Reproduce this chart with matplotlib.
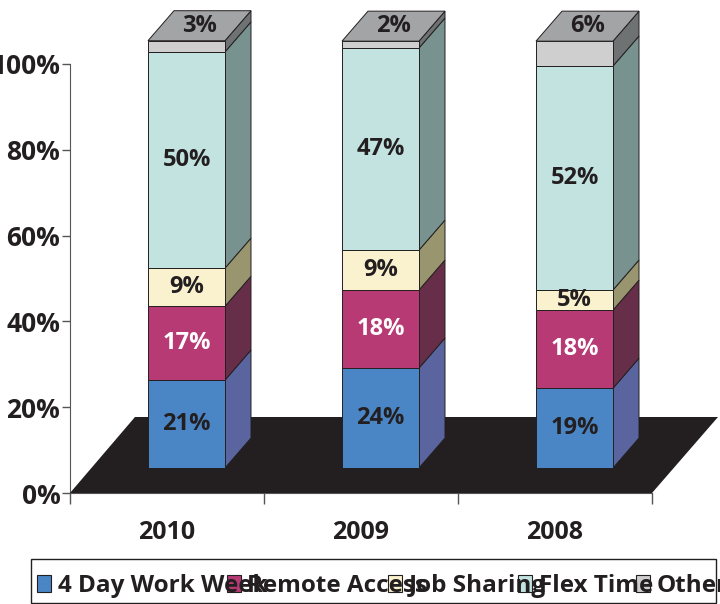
import matplotlib
matplotlib.use('Agg')
import matplotlib.pyplot as plt
from matplotlib.patches import Polygon, Rectangle
from matplotlib import font_manager

years = ['2010', '2009', '2008']
series = ['4 Day Work Week', 'Remote Access', 'Job Sharing', 'Flex Time', 'Other']

four_day = [20.5, 23.3, 18.6]
remote = [17.2, 18.2, 18.2]
job_sharing = [8.9, 9.3, 4.7]
flex_time = [50.4, 47.1, 52.2]
other = [2.6, 1.6, 5.8]

four_day_labels = ['21%', '24%', '19%']
remote_labels = ['17%', '18%', '18%']
job_labels = ['9%', '9%', '5%']
flex_labels = ['50%', '47%', '52%']
other_labels = ['3%', '2%', '6%']

front_colors = ['#4a86c5', '#b83a75', '#faf2cf', '#c3e3e0', '#cfcfcf']
side_colors = ['#5a649f', '#662e48', '#99956f', '#78928f', '#6f7272']
top_color = '#a3a4a6'
label_colors = ['#231f20', 'white', '#231f20', '#231f20', '#231f20']
dark = '#231f20'

installed = {f.name for f in font_manager.fontManager.ttflist}
font = 'Liberation Sans Narrow' if 'Liberation Sans Narrow' in installed else 'Open Sans'
plt.rcParams['font.family'] = [font, 'DejaVu Sans']
plt.rcParams['font.weight'] = 'bold'

W, H = 720, 604
fig = plt.figure(figsize=(W / 100, H / 100), dpi=100)
# plot area in pixels: x 70-652, y 64-493
ax = fig.add_axes([70 / W, 1 - 493 / H, 582 / W, 429 / H])
ax.set_xlim(0, 3)
ax.set_ylim(0, 100)

px_x = 3 / 582
px_y = 100 / 429

# floor
ax.add_patch(Polygon([(0, 0), (65 * px_x, 76 * px_y), (648 * px_x, 76 * px_y), (3, 0)],
                     closed=True, fc=dark, ec='none', clip_on=False, zorder=1))

base = 25 * px_y
dx = 26 * px_x
dy = 30 * px_y
bar_w = 77 * px_x
offset = 19.5 * px_x

values = [four_day, remote, job_sharing, flex_time, other]
labels = [four_day_labels, remote_labels, job_labels, flex_labels, other_labels]

for i in range(3):
    x0 = i + 0.5 + offset - bar_w / 2
    x1 = x0 + bar_w
    y = base
    for s in range(5):
        v = values[s][i]
        ax.add_patch(Polygon([(x1, y), (x1 + dx, y + dy), (x1 + dx, y + v + dy), (x1, y + v)],
                             closed=True, fc=side_colors[s], ec=dark, lw=0.7,
                             clip_on=False, zorder=2 + s))
        ax.add_patch(Rectangle((x0, y), bar_w, v, fc=front_colors[s], ec=dark, lw=0.7,
                               clip_on=False, zorder=8 + s))
        if s < 4:
            ax.text(x0 + bar_w / 2, y + v / 2, labels[s][i], color=label_colors[s],
                    ha='center', va='center', fontsize=17, clip_on=False, zorder=20)
        y += v
    ax.add_patch(Polygon([(x0, y), (x1, y), (x1 + dx, y + dy), (x0 + dx, y + dy)],
                         closed=True, fc=top_color, ec=dark, lw=0.7, clip_on=False, zorder=14))
    ax.text(x0 + bar_w / 2 + dx / 2, y + dy / 2, labels[4][i], color=dark,
            ha='center', va='center', fontsize=17, clip_on=False, zorder=20)

ax.set_yticks([0, 20, 40, 60, 80, 100])
ax.set_yticklabels(['0%', '20%', '40%', '60%', '80%', '100%'], fontsize=19, color=dark)
ax.set_xticks([0, 1, 2, 3], minor=False)
ax.set_xticklabels(['', '', '', ''])
for i, yr in enumerate(years):
    ax.text(i + 0.5, -9.2, yr, ha='center', va='center', fontsize=18, color=dark)
ax.tick_params(axis='y', length=6, width=1, color='#555555', pad=1)
ax.tick_params(axis='x', length=8, width=1, color='#555555')
for side in ['top', 'right']:
    ax.spines[side].set_visible(False)
for side in ['left', 'bottom']:
    ax.spines[side].set_color('#555555')
    ax.spines[side].set_zorder(0)

# legend box
fig.patches.append(Rectangle((31 / W, 1 - 603 / H), 685 / W, 44 / H, transform=fig.transFigure,
                             fc='white', ec=dark, lw=1))
key_x = [37, 227, 388, 518, 636]
text_x = [58, 247, 409, 539, 657]
for s in range(5):
    fig.patches.append(Rectangle((key_x[s] / W, 1 - 592 / H), 14 / W, 17 / H,
                                 transform=fig.transFigure, fc=front_colors[s], ec=dark, lw=0.8))
    fig.text(text_x[s] / W, 1 - 586 / H, series[s], fontsize=17.5, color=dark, ha='left', va='center')

fig.savefig('out.png', dpi=100)
